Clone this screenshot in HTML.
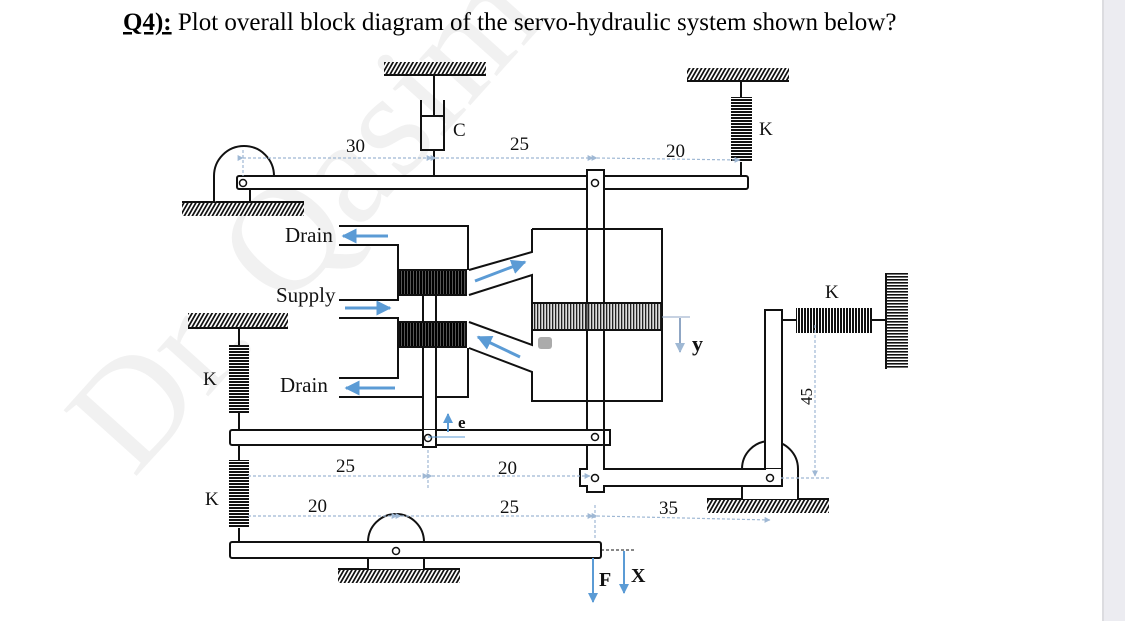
<!DOCTYPE html>
<html><head><meta charset="utf-8"><style>
body{margin:0;background:#fff;width:1125px;height:621px;overflow:hidden;position:relative;font-family:"Liberation Serif",serif}
.strip{position:absolute;left:1102px;top:0;width:23px;height:621px;background:#ececf1;border-left:2px solid #dcdce0}
svg{position:absolute;left:0;top:0}
</style></head><body>
<div class="strip"></div>
<svg width="1102" height="621" viewBox="0 0 1102 621" font-family="Liberation Serif, serif">
<defs>
<pattern id="h" width="4" height="4" patternUnits="userSpaceOnUse" patternTransform="skewX(-30)"><rect width="4" height="4" fill="#fff"/><rect width="2" height="4" fill="#111"/></pattern>
<pattern id="hv" width="4" height="3" patternUnits="userSpaceOnUse"><rect width="4" height="3" fill="#fff"/><rect width="4" height="1.6" fill="#111"/></pattern>
<pattern id="sv" width="4" height="3" patternUnits="userSpaceOnUse"><rect width="4" height="3" fill="#fff"/><rect width="4" height="2" fill="#111"/></pattern>
<pattern id="sh" width="3" height="4" patternUnits="userSpaceOnUse"><rect width="3" height="4" fill="#fff"/><rect width="2" height="4" fill="#111"/></pattern>
<pattern id="pist" width="3" height="4" patternUnits="userSpaceOnUse"><rect width="3" height="4" fill="#ddd"/><rect width="1.3" height="4" fill="#222"/></pattern>
<pattern id="spool" width="3" height="4" patternUnits="userSpaceOnUse"><rect width="3" height="4" fill="#555"/><rect width="2" height="4" fill="#000"/></pattern>
<marker id="ab" viewBox="0 0 10 10" refX="9" refY="5" markerWidth="5" markerHeight="5" orient="auto"><path d="M0,0L10,5L0,10z" fill="#5b9bd5"/></marker>
<marker id="ag" viewBox="0 0 10 10" refX="9" refY="5" markerWidth="5" markerHeight="5" orient="auto"><path d="M0,0L10,5L0,10z" fill="#9fb8d4"/></marker>
</defs>
<text x="340" y="250" font-size="150" fill="#f1f1f1" transform="rotate(-48 340 250)" text-anchor="middle">Dr. Qasim</text>
<text x="123" y="30" font-size="25"><tspan font-weight="bold" text-decoration="underline">Q4):</tspan> Plot overall block diagram of the servo-hydraulic system shown below?</text>
<g stroke="#111" stroke-width="2" fill="none">
<rect x="384" y="62" width="102" height="12" fill="url(#h)" stroke="none"/><line x1="384" y1="75" x2="486" y2="75"/>
<rect x="687" y="68" width="102" height="12" fill="url(#h)" stroke="none"/><line x1="687" y1="81" x2="789" y2="81"/>
<rect x="182" y="203" width="122" height="13" fill="url(#h)" stroke="none"/><line x1="182" y1="202" x2="304" y2="202"/>
<rect x="188" y="313" width="100" height="14" fill="url(#h)" stroke="none"/><line x1="188" y1="328" x2="288" y2="328"/>
<rect x="338" y="569" width="122" height="14" fill="url(#h)" stroke="none"/><line x1="338" y1="569" x2="460" y2="569"/>
<rect x="707" y="499" width="122" height="14" fill="url(#h)" stroke="none"/><line x1="707" y1="499" x2="829" y2="499"/>
<rect x="886" y="273" width="22" height="96" fill="url(#hv)" stroke="none"/><line x1="886" y1="273" x2="886" y2="369"/>
<line x1="434" y1="75" x2="434" y2="115"/>
<path d="M421,100V150H444V100"/><line x1="421" y1="116" x2="444" y2="116"/>
<line x1="434" y1="150" x2="434" y2="176"/>
<line x1="741" y1="81" x2="741" y2="97"/><rect x="731" y="97" width="21" height="65" fill="url(#sv)" stroke="none"/><line x1="741" y1="162" x2="741" y2="176"/>
<path d="M214,202V176A30,30 0 0 1 274,176" fill="#fff"/><line x1="250" y1="189" x2="250" y2="202"/>
<rect x="237" y="176" width="511" height="13" rx="2" fill="#fff"/>
<rect x="587" y="170" width="17" height="322" fill="#fff"/>
<path d="M532,229H662V401H532V372L469,348M469,322L532,345V275L469,295M469,270L532,252V229"/>
<rect x="532" y="303" width="130" height="27" fill="url(#pist)"/>
<rect x="587" y="303" width="17" height="27" fill="none" stroke-width="1"/>
<path d="M339,226H468V270M339,245H398V300H339M339,318H398V378H339M339,397H468V348"/>
<rect x="399" y="270" width="67" height="25" fill="url(#spool)"/>
<rect x="399" y="322" width="67" height="25" fill="url(#spool)"/>
<rect x="423" y="295" width="13" height="27" fill="#fff"/>
<rect x="423" y="347" width="13" height="100" fill="#fff"/>
<line x1="239" y1="328" x2="239" y2="345"/><rect x="229" y="345" width="20" height="68" fill="url(#sv)" stroke="none"/><line x1="239" y1="413" x2="239" y2="430"/>
<line x1="239" y1="445" x2="239" y2="460"/><rect x="229" y="460" width="20" height="68" fill="url(#sv)" stroke="none"/><line x1="239" y1="528" x2="239" y2="542"/>
<rect x="604" y="430" width="6" height="15" fill="#fff"/>
<rect x="230" y="430" width="374" height="15" rx="2" fill="#fff"/>
<rect x="423" y="430" width="13" height="17" fill="#fff" stroke="none"/><line x1="423" y1="430" x2="423" y2="447"/><line x1="436" y1="430" x2="436" y2="447"/><line x1="423" y1="447" x2="436" y2="447"/>
<rect x="588" y="431" width="15" height="13" fill="#fff" stroke="none"/>
<path d="M368,569V542A28,28 0 0 1 424,542V569" fill="#fff"/>
<rect x="230" y="542" width="371" height="16" rx="2" fill="#fff"/>
<path d="M742,499V469A28,28 0 0 1 798,469V499" fill="#fff"/>
<rect x="765" y="310" width="17" height="176" fill="#fff"/>
<rect x="580" y="469" width="202" height="17" fill="#fff"/>
<rect x="766" y="469" width="15" height="16" fill="#fff" stroke="none"/>
<rect x="588" y="468" width="15" height="19" fill="#fff" stroke="none"/>
<line x1="782" y1="320" x2="796" y2="320"/><rect x="796" y="308" width="76" height="25" fill="url(#sh)" stroke="none"/><line x1="872" y1="320" x2="886" y2="320"/>
</g>
<g fill="#fff" stroke="#111" stroke-width="1.5">
<circle cx="243" cy="183" r="3.5"/><circle cx="595" cy="183" r="3.5"/><circle cx="428" cy="438" r="3.5"/><circle cx="595" cy="437" r="3.5"/><circle cx="595" cy="478" r="3.5"/><circle cx="770" cy="478" r="3.5"/><circle cx="396" cy="551" r="3.5"/>
</g>
<rect x="538" y="337" width="14" height="12" rx="3" fill="#888" opacity="0.7"/>
<g stroke="#9fb8d4" stroke-width="1.2" stroke-dasharray="3,2" fill="none">
<line x1="243" y1="158" x2="432" y2="158" marker-start="url(#ag)" marker-end="url(#ag)"/>
<line x1="436" y1="158" x2="593" y2="158" marker-start="url(#ag)" marker-end="url(#ag)"/>
<line x1="597" y1="158" x2="740" y2="160" marker-start="url(#ag)" marker-end="url(#ag)"/>
<line x1="243" y1="150" x2="243" y2="176"/>
<line x1="248" y1="476" x2="428" y2="476" marker-end="url(#ag)"/>
<line x1="432" y1="476" x2="590" y2="476" marker-start="url(#ag)" marker-end="url(#ag)"/>
<line x1="428" y1="450" x2="428" y2="490"/>
<line x1="248" y1="516" x2="397" y2="516" marker-end="url(#ag)"/>
<line x1="401" y1="516" x2="593" y2="516" marker-start="url(#ag)" marker-end="url(#ag)"/>
<line x1="597" y1="516" x2="770" y2="520" marker-start="url(#ag)" marker-end="url(#ag)"/>
<line x1="595" y1="505" x2="595" y2="540"/>
<line x1="815" y1="325" x2="815" y2="476" marker-end="url(#ag)"/>
<line x1="781" y1="478" x2="830" y2="478"/>
</g>
<g stroke="#5b9bd5" stroke-width="3" fill="none">
<line x1="388" y1="236" x2="343" y2="236" marker-end="url(#ab)"/>
<line x1="345" y1="308" x2="390" y2="308" marker-end="url(#ab)"/>
<line x1="395" y1="388" x2="346" y2="388" marker-end="url(#ab)"/>
<line x1="475" y1="281" x2="525" y2="262" marker-end="url(#ab)"/>
<line x1="520" y1="357" x2="478" y2="337" marker-end="url(#ab)"/>
<line x1="448" y1="432" x2="448" y2="414" stroke-width="2" marker-end="url(#ab)"/>
<line x1="593" y1="558" x2="593" y2="602" stroke-width="2" marker-end="url(#ab)"/>
<line x1="624" y1="551" x2="624" y2="593" stroke-width="2" marker-end="url(#ab)"/>
<line x1="680" y1="318" x2="680" y2="352" stroke="#8fa6c4" stroke-width="2" marker-end="url(#ag)"/>
</g>
<line x1="428" y1="437" x2="465" y2="437" stroke="#5b9bd5" stroke-width="1"/>
<line x1="662" y1="317" x2="690" y2="317" stroke="#8fa6c4" stroke-width="1"/>
<line x1="601" y1="550" x2="636" y2="550" stroke="#111" stroke-width="1" stroke-dasharray="3,2"/>
<g font-size="19" fill="#111">
<text x="453" y="136">C</text><text x="759" y="135">K</text>
<text x="346" y="152">30</text><text x="510" y="150">25</text><text x="666" y="157">20</text>
<text x="285" y="242" font-size="21">Drain</text><text x="276" y="302" font-size="21">Supply</text><text x="280" y="392" font-size="21">Drain</text>
<text x="203" y="385">K</text><text x="205" y="505">K</text><text x="825" y="298">K</text>
<text x="336" y="472">25</text><text x="498" y="474">20</text>
<text x="308" y="512">20</text><text x="500" y="513">25</text><text x="659" y="514">35</text>
<text x="812" y="405" transform="rotate(-90 812 405)" font-size="17">45</text>
<text x="458" y="428" font-weight="bold" font-size="17">e</text>
<text x="692" y="351" font-weight="bold" font-size="22">y</text>
<text x="599" y="586" font-weight="bold" font-size="20">F</text>
<text x="631" y="582" font-weight="bold" font-size="20">X</text>
</g>
</svg>
</body></html>
